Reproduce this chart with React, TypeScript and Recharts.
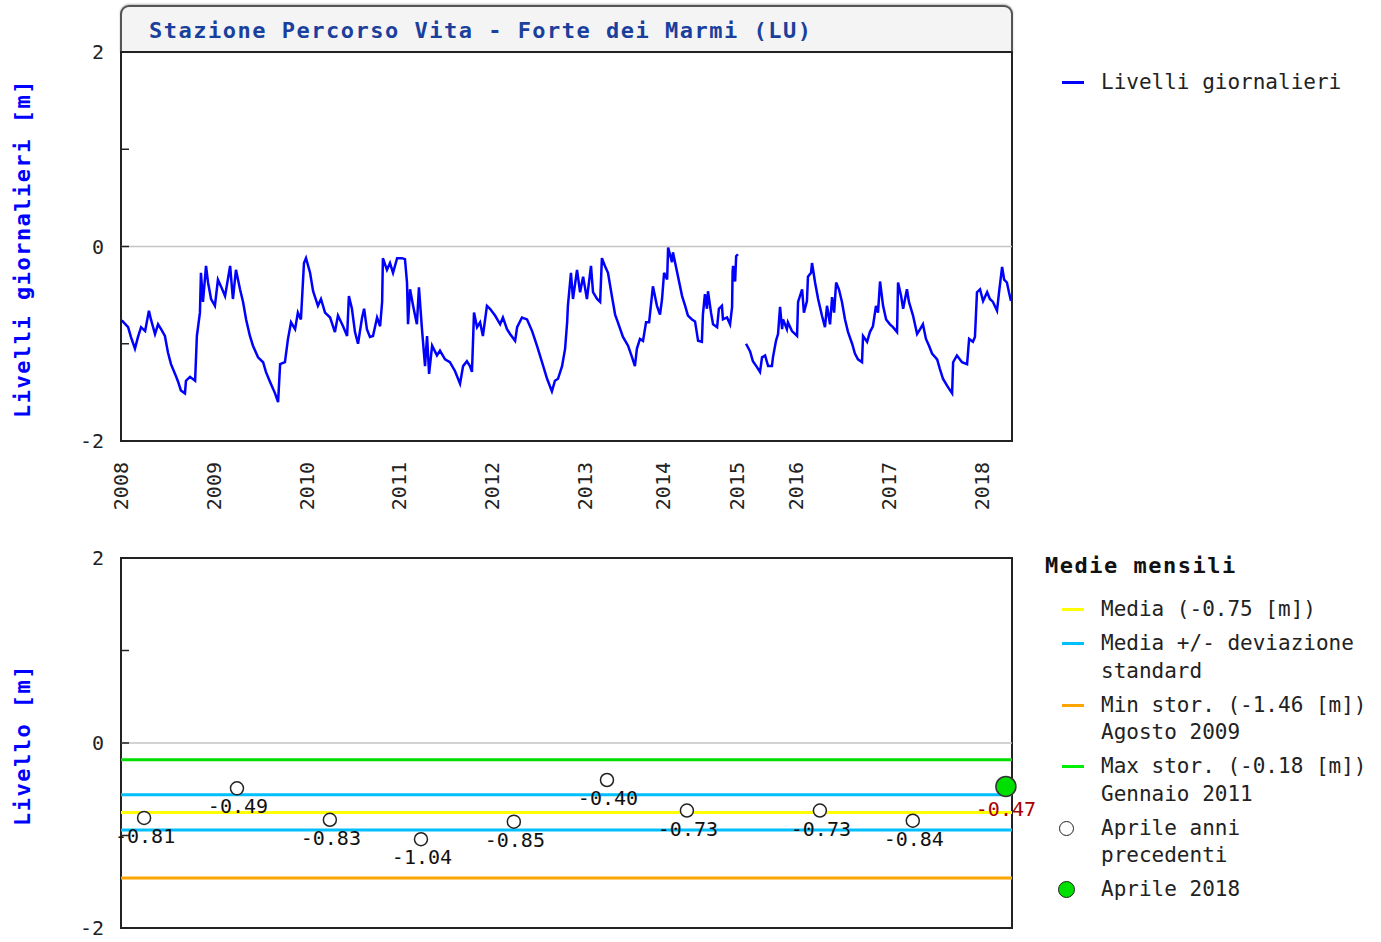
import React from 'react';
import {
  LineChart,
  Line,
  ComposedChart,
  Scatter,
  XAxis,
  YAxis,
  ReferenceLine,
  ReferenceArea,
  Label,
} from 'recharts';

const MONO = '"DejaVu Sans Mono", "Liberation Mono", monospace';

// asse x: giorni di registrazione (i periodi senza dati non occupano spazio)
const yearTickDays = [0, 366, 731, 1096, 1461, 1827, 2135, 2427, 2660, 3026, 3391];
const yearLabels = ['2008', '2009', '2010', '2011', '2012', '2013', '2014', '2015', '2016', '2017', '2018'];
const recordEnd = 3511;
const levelTicks = [-2, -1, 0, 1, 2];

// livelli giornalieri [m]
const dailyDays = [
  3, 28, 39, 55, 67, 79, 95, 110, 118, 134,
  146, 158, 173, 185, 197, 213, 225, 236, 252, 256,
  272, 292, 299, 311, 315, 323, 335, 343, 355, 370,
  382, 394, 410, 430, 441, 453, 469, 481, 493, 508,
  520, 540, 560, 571, 587, 607, 619, 627, 646, 658,
  670, 686, 697, 709, 721, 729, 745, 757, 776, 788,
  804, 824, 843, 855, 875,
  891, 898, 910, 922, 934, 950, 958, 969, 981, 993,
  1009, 1021, 1029, 1032, 1048, 1060, 1072, 1088, 1107, 1119,
  1127, 1131, 1139, 1151, 1166, 1174, 1186, 1198, 1206, 1214,
  1226, 1245, 1257, 1277, 1296, 1316, 1336, 1348, 1363, 1375,
  1383, 1391, 1403, 1415, 1426, 1442, 1454, 1474, 1494, 1505,
  1521, 1533, 1553, 1561, 1580, 1600, 1620, 1639, 1659, 1679,
  1698, 1710, 1722, 1738, 1750,
  1758, 1761, 1773, 1781, 1797, 1809, 1821, 1836, 1852, 1860,
  1876, 1888, 1895, 1907, 1919, 1935, 1947, 1958, 1978, 1998,
  2014, 2025, 2033, 2045, 2057, 2069, 2081, 2092, 2096, 2112,
  2124, 2132, 2140, 2152, 2156, 2171, 2175, 2191, 2211, 2223,
  2234, 2250, 2262, 2274, 2289, 2293, 2301, 2309, 2313, 2325,
  2333, 2349, 2356, 2368, 2372, 2388, 2400, 2408, 2410, 2412,
  2420, 2424, 2431,
  2445,
  2463, 2479, 2490, 2506, 2518, 2526, 2538, 2550, 2565, 2569,
  2581, 2589, 2597, 2605, 2609, 2624, 2628, 2644, 2664, 2668,
  2684, 2691, 2703, 2707, 2719, 2723, 2735, 2747, 2762, 2774,
  2782, 2794, 2802, 2810, 2818, 2829, 2841, 2853, 2865, 2881,
  2892, 2904, 2920, 2924, 2940, 2951, 2963, 2975, 2983, 2991,
  3003, 3015, 3030, 3042, 3058, 3062, 3074, 3082, 3097, 3105,
  3121, 3137, 3149, 3160, 3172, 3184, 3196, 3216, 3227, 3239,
  3255, 3275, 3279, 3294, 3314, 3334, 3342, 3357, 3365, 3373,
  3385, 3397, 3413, 3424, 3436, 3452, 3460, 3472, 3480, 3491,
  3499, 3507,
];
const dailyLevels: (number | null)[] = [
  -0.76, -0.83, -0.93, -1.05, -0.93, -0.83, -0.87, -0.66, -0.75, -0.90,
  -0.80, -0.85, -0.92, -1.09, -1.21, -1.31, -1.39, -1.48, -1.51, -1.38,
  -1.34, -1.38, -0.92, -0.68, -0.27, -0.57, -0.20, -0.37, -0.54, -0.61,
  -0.34, -0.41, -0.51, -0.20, -0.54, -0.24, -0.44, -0.57, -0.75, -0.92,
  -1.02, -1.14, -1.19, -1.29, -1.39, -1.51, -1.60, -1.21, -1.19, -0.95,
  -0.78, -0.85, -0.68, -0.75, -0.17, -0.12, -0.27, -0.46, -0.61, -0.54,
  -0.68, -0.73, -0.88, -0.71, -0.82,
  -0.92, -0.51, -0.64, -0.88, -1.00, -0.73, -0.64, -0.85, -0.93, -0.92,
  -0.73, -0.82, -0.57, -0.12, -0.24, -0.17, -0.27, -0.12, -0.12, -0.13,
  -0.37, -0.80, -0.44, -0.61, -0.80, -0.42, -0.85, -1.23, -0.92, -1.31,
  -1.02, -1.12, -1.07, -1.16, -1.19, -1.28, -1.41, -1.23, -1.18, -1.23,
  -1.29, -0.68, -0.83, -0.78, -0.92, -0.61, -0.64, -0.71, -0.80, -0.73,
  -0.85, -0.90, -0.97, -0.83, -0.73, -0.75, -0.87, -1.02, -1.19, -1.36,
  -1.49, -1.38, -1.36, -1.23, -1.05,
  -0.78, -0.61, -0.27, -0.54, -0.24, -0.47, -0.31, -0.54, -0.20, -0.47,
  -0.54, -0.57, -0.12, -0.20, -0.27, -0.52, -0.70, -0.78, -0.93, -1.02,
  -1.14, -1.23, -1.05, -0.95, -0.97, -0.78, -0.78, -0.51, -0.41, -0.61,
  -0.70, -0.54, -0.27, -0.34, -0.01, -0.16, -0.06, -0.26, -0.51, -0.61,
  -0.71, -0.75, -0.77, -0.97, -0.98, -0.70, -0.49, -0.64, -0.46, -0.68,
  -0.80, -0.83, -0.64, -0.61, -0.75, -0.73, -0.80, -0.62, -0.26, -0.20,
  -0.36, -0.10, -0.08,
  null,
  -1.00, -1.08, -1.18, -1.24, -1.29, -1.14, -1.12, -1.23, -1.23, -1.14,
  -0.97, -0.90, -0.62, -0.85, -0.75, -0.85, -0.78, -0.87, -0.92, -0.57,
  -0.44, -0.68, -0.56, -0.31, -0.27, -0.17, -0.37, -0.54, -0.71, -0.83,
  -0.61, -0.80, -0.52, -0.68, -0.37, -0.44, -0.57, -0.75, -0.88, -1.00,
  -1.10, -1.16, -1.19, -0.92, -0.98, -0.88, -0.82, -0.61, -0.68, -0.36,
  -0.61, -0.75, -0.80, -0.83, -0.88, -0.37, -0.51, -0.64, -0.44, -0.57,
  -0.71, -0.90, -0.85, -0.80, -0.95, -1.02, -1.10, -1.16, -1.26, -1.36,
  -1.43, -1.51, -1.19, -1.12, -1.19, -1.21, -0.95, -0.98, -0.93, -0.47,
  -0.44, -0.56, -0.47, -0.54, -0.57, -0.66, -0.47, -0.21, -0.34, -0.37,
  -0.47, -0.56,
];

// medie mensili di aprile
const aprilDays = [91, 457, 823, 1182, 1548, 1915, 2230, 2754, 3120];
const aprilLevels = [-0.81, -0.49, -0.83, -1.04, -0.85, -0.40, -0.73, -0.73, -0.84];
const currentAprilDay = 3487;
const currentAprilLevel = -0.47;

const mediaMensile = -0.75;
const devStandard = 0.19;
const minStorico = -1.46;
const maxStorico = -0.18;

const dailyData = dailyDays.map((day, i) => ({ day, level: dailyLevels[i] }));
const pastApril = aprilDays.map((day, i) => ({ day, level: aprilLevels[i] }));
const currentApril = [{ day: currentAprilDay, level: currentAprilLevel }];

const TICK_MARGIN = 17;

const YTick = (props: any) => {
  const { x, y, payload } = props;
  const axisX = x + TICK_MARGIN;
  const v = payload.value;
  return (
    <g>
      <line x1={axisX} x2={axisX + 8} y1={y} y2={y} stroke="#222" strokeWidth={1.5} />
      {v % 2 === 0 && (
        <text x={x} y={y} dy="0.35em" textAnchor="end" fontFamily={MONO} fontSize={20} fill="#222">
          {v}
        </text>
      )}
    </g>
  );
};

const XTick = (props: any) => {
  const { x, y, payload } = props;
  return (
    <text
      x={x}
      y={y}
      dy="0.35em"
      textAnchor="end"
      transform={`rotate(-90 ${x} ${y})`}
      fontFamily={MONO}
      fontSize={20}
      fill="#222"
    >
      {yearLabels[yearTickDays.indexOf(payload.value)]}
    </text>
  );
};

const axisTitle = (text: string) => (props: any) => {
  const vb = props.viewBox;
  const cx = 22;
  const cy = vb.y + vb.height / 2 + 2;
  return (
    <text
      x={cx}
      y={cy}
      transform={`rotate(-90 ${cx} ${cy})`}
      textAnchor="middle"
      dominantBaseline="central"
      fill="#0000ff"
      fontFamily={MONO}
      fontWeight="bold"
      fontSize={22}
      letterSpacing={1.5}
    >
      {text}
    </text>
  );
};

const PastAprilDot = (p: any) => (
  <g>
    <circle cx={p.cx} cy={p.cy} r={6.5} fill="#fff" stroke="#222" strokeWidth={1.5} />
    <text x={p.cx + 1} y={p.cy + 18} dy="0.35em" textAnchor="middle" fontFamily={MONO} fontSize={20} fill="#111">
      {p.payload.level.toFixed(2)}
    </text>
  </g>
);

const CurrentAprilDot = (p: any) => (
  <g>
    <circle cx={p.cx} cy={p.cy} r={10} fill="#00e000" stroke="#333" strokeWidth={1.5} />
    <text x={p.cx} y={p.cy + 23} dy="0.35em" textAnchor="middle" fontFamily={MONO} fontSize={20} fill="#a80000">
      {p.payload.level.toFixed(2)}
    </text>
  </g>
);

const legendText: React.CSSProperties = {
  fontFamily: MONO,
  fontSize: 21,
  color: '#222',
  lineHeight: '27.5px',
  whiteSpace: 'pre',
};

const monthlyLegend = [
  { kind: 'line', color: '#ffff00', lines: ['Media (-0.75 [m])'] },
  { kind: 'line', color: '#00bfff', lines: ['Media +/- deviazione', 'standard'] },
  { kind: 'line', color: '#ffa500', lines: ['Min stor. (-1.46 [m])', 'Agosto 2009'] },
  { kind: 'line', color: '#00ee00', lines: ['Max stor. (-0.18 [m])', 'Gennaio 2011'] },
  { kind: 'open', color: '#fff', lines: ['Aprile anni', 'precedenti'] },
  { kind: 'filled', color: '#00e000', lines: ['Aprile 2018'] },
];

const LegendMarker = ({ kind, color }: { kind: string; color: string }) => {
  if (kind === 'line') {
    return <div style={{ position: 'absolute', left: 17, top: 12, width: 22, height: 3, background: color }} />;
  }
  const size = kind === 'open' ? 15 : 17;
  return (
    <div
      style={{
        position: 'absolute',
        left: 21 - size / 2,
        top: 13.75 - size / 2,
        width: size,
        height: size,
        boxSizing: 'border-box',
        borderRadius: '50%',
        border: '1.5px solid #222',
        background: color,
      }}
    />
  );
};

export default function App() {
  return (
    <div style={{ position: 'absolute', left: 0, top: 0, width: 1381, height: 942, background: '#fff' }}>
      {/* titolo */}
      <div
        style={{
          position: 'absolute',
          left: 120,
          top: 5,
          width: 893,
          height: 48,
          boxSizing: 'border-box',
          border: '2px solid #555',
          borderBottom: 'none',
          borderRadius: '9px 9px 0 0',
          background: '#f4f4f4',
          boxShadow: '0 -1px 2px #bbb',
        }}
      >
        <div
          style={{
            position: 'absolute',
            left: 27,
            top: 11,
            fontFamily: MONO,
            fontWeight: 'bold',
            fontSize: 22,
            letterSpacing: 1.5,
            color: '#1a3f9c',
            whiteSpace: 'pre',
          }}
        >
          Stazione Percorso Vita - Forte dei Marmi (LU)
        </div>
      </div>

      <div style={{ position: 'absolute', left: 0, top: 0 }}>
        <LineChart width={1381} height={530} data={dailyData} margin={{ top: 52, right: 369, bottom: 0, left: 0 }}>
          <XAxis
            dataKey="day"
            type="number"
            domain={[0, recordEnd]}
            ticks={yearTickDays}
            interval={0}
            height={89}
            tickSize={0}
            tickMargin={21}
            axisLine={false}
            tickLine={false}
            tick={<XTick />}
          />
          <YAxis
            type="number"
            domain={[-2, 2]}
            ticks={levelTicks}
            interval={0}
            width={121}
            tickSize={0}
            tickMargin={TICK_MARGIN}
            axisLine={false}
            tickLine={false}
            tick={<YTick />}
          >
            <Label content={axisTitle('Livelli giornalieri [m]')} />
          </YAxis>
          <ReferenceLine y={0} stroke="#c4c4c4" strokeWidth={1.5} />
          <ReferenceArea
            x1={0}
            x2={recordEnd}
            y1={-2}
            y2={2}
            fill="none"
            fillOpacity={0}
            stroke="#222"
            strokeWidth={2}
          />
          <Line
            type="linear"
            dataKey="level"
            stroke="#0000ff"
            strokeWidth={2.5}
            dot={false}
            connectNulls={false}
            isAnimationActive={false}
          />
        </LineChart>
      </div>

      {/* legenda livelli giornalieri */}
      <div style={{ position: 'absolute', left: 1045, top: 69 }}>
        <div style={{ position: 'relative', paddingLeft: 56, ...legendText }}>
          <LegendMarker kind="line" color="#0000ff" />
          Livelli giornalieri
        </div>
      </div>

      <div style={{ position: 'absolute', left: 0, top: 530 }}>
        <ComposedChart width={1381} height={412} margin={{ top: 28, right: 369, bottom: 14, left: 0 }}>
          <XAxis dataKey="day" type="number" domain={[0, recordEnd]} hide />
          <YAxis
            type="number"
            domain={[-2, 2]}
            ticks={levelTicks}
            interval={0}
            width={121}
            tickSize={0}
            tickMargin={TICK_MARGIN}
            axisLine={false}
            tickLine={false}
            tick={<YTick />}
          >
            <Label content={axisTitle('Livello [m]')} />
          </YAxis>
          <ReferenceLine y={0} stroke="#c4c4c4" strokeWidth={1.5} />
          <ReferenceLine y={maxStorico} stroke="#00dd00" strokeWidth={3} />
          <ReferenceLine y={mediaMensile + devStandard} stroke="#00bfff" strokeWidth={3} />
          <ReferenceLine y={mediaMensile} stroke="#ffff00" strokeWidth={3} />
          <ReferenceLine y={mediaMensile - devStandard} stroke="#00bfff" strokeWidth={3} />
          <ReferenceLine y={minStorico} stroke="#ffa500" strokeWidth={3} />
          <ReferenceArea
            x1={0}
            x2={recordEnd}
            y1={-2}
            y2={2}
            fill="none"
            fillOpacity={0}
            stroke="#222"
            strokeWidth={2}
          />
          <Scatter data={pastApril} dataKey="level" shape={PastAprilDot} isAnimationActive={false} />
          <Scatter data={currentApril} dataKey="level" shape={CurrentAprilDot} isAnimationActive={false} />
        </ComposedChart>
      </div>

      {/* legenda medie mensili */}
      <div style={{ position: 'absolute', left: 1045, top: 551 }}>
        <div style={{ fontFamily: MONO, fontWeight: 'bold', fontSize: 22, letterSpacing: 1.5, color: '#111', lineHeight: '30px' }}>
          Medie mensili
        </div>
        <div style={{ marginTop: 15 }}>
          {monthlyLegend.map((item) => (
            <div key={item.lines[0]} style={{ position: 'relative', paddingLeft: 56, marginBottom: 6.5, ...legendText }}>
              <LegendMarker kind={item.kind} color={item.color} />
              {item.lines.map((l) => (
                <div key={l}>{l}</div>
              ))}
            </div>
          ))}
        </div>
      </div>
    </div>
  );
}
